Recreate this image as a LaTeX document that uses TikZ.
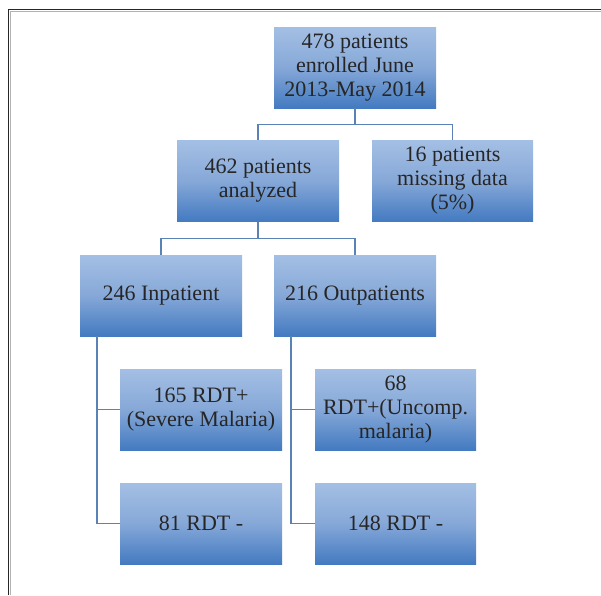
\documentclass[tikz,border=0pt]{standalone}
\usepackage{fontspec}
\setmainfont{Liberation Serif}
\definecolor{boxtop}{HTML}{A4BFE4}
\definecolor{boxmid}{HTML}{86A8D8}
\definecolor{boxbot}{HTML}{437AC1}
\definecolor{linkcol}{HTML}{5A82B5}
\definecolor{txtcol}{HTML}{262626}
\begin{document}
\begin{tikzpicture}[x=1pt,y=-1pt,
  box/.style={rectangle, top color=boxtop, bottom color=boxbot, middle color=boxmid,
    minimum width=162pt, minimum height=81pt, inner sep=2pt, align=center,
    text=txtcol, font=\fontsize{22}{24}\selectfont},
  link/.style={draw=linkcol, line width=1.4pt}]
\useasboundingbox (0,0) rectangle (601,595);
\draw[line width=1.4pt, color=black!85] (8.5,595) -- (8.5,9.5) -- (601,9.5);
\draw[line width=0.8pt, color=black!30] (10,595) -- (10,11) -- (601,11);
\node[box] (top) at (355,67.5) {478 patients\\enrolled June\\2013-May 2014};
\node[box] (ana) at (258,181) {462 patients\\analyzed};
\node[box, minimum width=161pt] (mis) at (452.5,181) {16 patients\\missing data\\(5\%)};
\node[box] (inp) at (161,295.5) {246 Inpatient};
\node[box] (out) at (355,295.5) {216 Outpatients};
\node[box] (sev) at (201,409.5) {165 RDT+\\(Severe Malaria)};
\node[box] (ineg) at (201,523.5) {81 RDT -};
\node[box, minimum width=161pt] (unc) at (395.5,409.5) {68\\RDT+(Uncomp.\\malaria)};
\node[box, minimum width=161pt] (oneg) at (395.5,523.5) {148 RDT -};
\draw[link] (top.south) -- ++(0,16) -| (ana.north);
\draw[link] (top.south) -- ++(0,16) -| (mis.north);
\draw[link] (ana.south) -- ++(0,17) -| (inp.north);
\draw[link] (ana.south) -- ++(0,17) -| (out.north);
\coordinate (ib) at ([xshift=17pt]inp.south west);
\coordinate (ob) at ([xshift=17pt]out.south west);
\draw[link] (ib) |- (sev.west);
\draw[link] (ib) |- (ineg.west);
\draw[link] (ob) |- (unc.west);
\draw[link] (ob) |- (oneg.west);
\end{tikzpicture}
\end{document}
